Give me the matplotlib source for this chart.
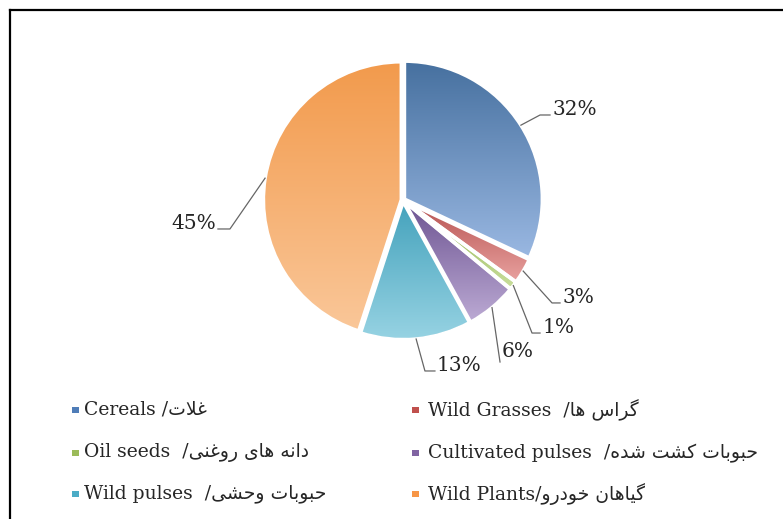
import numpy as np
import matplotlib
matplotlib.use("Agg")
import matplotlib.pyplot as plt
from matplotlib.lines import Line2D
from matplotlib.patches import Rectangle, Wedge
from matplotlib.colors import to_rgb

# ---------------- data ----------------
categories_en = ["Cereals", "Wild Grasses", "Oil seeds", "Cultivated pulses",
                 "Wild pulses", "Wild Plants"]
categories_fa = ["غلات", "گراس ها", "دانه های روغنی", "حبوبات کشت شده",
                 "حبوبات وحشی", "گیاهان خودرو"]
separators = [" /", "  /", "  /", "  /", "  /", "/"]
values = [32, 3, 1, 6, 13, 45]
pct_labels = ["32%", "3%", "1%", "6%", "13%", "45%"]

# gradient colours (dark top -> light bottom)
dark_cols = ["#46709F", "#B5504E", "#8DAF4E", "#6C5391", "#44A2BC", "#F29A4C"]
light_cols = ["#9AB8E2", "#E9A2A0", "#C9DE9C", "#BCAAD4", "#97D3E3", "#FAC799"]
legend_cols = ["#4F7DB8", "#C0504D", "#9BBB59", "#8064A2", "#4BACC6", "#F79646"]

# ---------------- minimal Persian shaping (visual order) ----------------
AR_FORMS = {
    'ا': ('\uFE8D', '\uFE8E', None, None),
    'ب': ('\uFE8F', '\uFE90', '\uFE91', '\uFE92'),
    'ت': ('\uFE95', '\uFE96', '\uFE97', '\uFE98'),
    'ح': ('\uFEA1', '\uFEA2', '\uFEA3', '\uFEA4'),
    'خ': ('\uFEA5', '\uFEA6', '\uFEA7', '\uFEA8'),
    'د': ('\uFEA9', '\uFEAA', None, None),
    'ر': ('\uFEAD', '\uFEAE', None, None),
    'س': ('\uFEB1', '\uFEB2', '\uFEB3', '\uFEB4'),
    'ش': ('\uFEB5', '\uFEB6', '\uFEB7', '\uFEB8'),
    'غ': ('\uFECD', '\uFECE', '\uFECF', '\uFED0'),
    'ک': ('\uFB8E', '\uFB8F', '\uFB90', '\uFB91'),
    'ك': ('\uFB8E', '\uFB8F', '\uFB90', '\uFB91'),
    'گ': ('\uFB92', '\uFB93', '\uFB94', '\uFB95'),
    'ل': ('\uFEDD', '\uFEDE', '\uFEDF', '\uFEE0'),
    'ن': ('\uFEE5', '\uFEE6', '\uFEE7', '\uFEE8'),
    'ه': ('\uFEE9', '\uFEEA', '\uFEEB', '\uFEEC'),
    'و': ('\uFEED', '\uFEEE', None, None),
    'ی': ('\uFBFC', '\uFBFD', '\uFBFE', '\uFBFF'),
    'ي': ('\uFBFC', '\uFBFD', '\uFBFE', '\uFBFF'),
    'ى': ('\uFBFC', '\uFBFD', '\uFBFE', '\uFBFF'),
}


def joins_left(c):
    return c in AR_FORMS and AR_FORMS[c][2] is not None


def shape_fa(s):
    chars = list(s)
    n = len(chars)
    out = []
    i = 0
    while i < n:
        c = chars[i]
        if c not in AR_FORMS:
            out.append(c)
            i += 1
            continue
        prev_j = i > 0 and joins_left(chars[i - 1])
        if c == 'ل' and i + 1 < n and chars[i + 1] == 'ا':
            out.append('\uFEFC' if prev_j else '\uFEFB')
            i += 2
            continue
        nxt = chars[i + 1] if i + 1 < n else None
        next_j = (nxt in AR_FORMS) and AR_FORMS[c][2] is not None
        iso, fin, ini, med = AR_FORMS[c]
        if prev_j and next_j:
            out.append(med)
        elif prev_j:
            out.append(fin)
        elif next_j:
            out.append(ini)
        else:
            out.append(iso)
        i += 1
    return ''.join(reversed(out))


# ---------------- figure ----------------
W, H = 783, 519
fig = plt.figure(figsize=(W / 100, H / 100), dpi=100)
fig.patch.set_facecolor("white")

# pie axes: centre (403, 200) px, radius 138 px, limits +-1.4
scale = 138.0
L = 1.4
cx, cy = 403.0, 200.0
size = 2 * L * scale
ax = fig.add_axes([(cx - size / 2) / W, (H - cy - size / 2) / H, size / W, size / H])

serif = ["DejaVu Serif", "DejaVu Sans"]
txt_col = "#262626"

wedges, _ = ax.pie(values, startangle=90, counterclock=False,
                   explode=[0.012] * len(values), radius=1.0,
                   wedgeprops=dict(facecolor="none", edgecolor="white",
                                   linewidth=2.6, zorder=3))

grad = np.linspace(0, 1, 256)[:, None]
for w, dc, lc in zip(wedges, dark_cols, light_cols):
    ext = w.get_path().get_extents()
    d = np.array(to_rgb(dc))
    l = np.array(to_rgb(lc))
    img = d[None, None, :] * (1 - grad[..., None]) + l[None, None, :] * grad[..., None]
    img = np.repeat(img, 2, axis=1)
    # row 0 (dark) at the top of the wedge
    im = ax.imshow(img, extent=[ext.x0, ext.x1, ext.y0, ext.y1], origin="upper",
                   zorder=2, interpolation="bilinear")
    im.set_clip_path(w)
    # subtle darker rim
    ax.add_patch(Wedge(w.center, w.r, w.theta1, w.theta2,
                       width=0.012, facecolor=dc, alpha=0.35,
                       edgecolor="none", zorder=2.5))

ax.set_xlim(-L, L)
ax.set_ylim(-L, L)
ax.set_aspect("equal")
ax.axis("off")

# ---------------- data labels with leader lines ----------------
# elbow positions (data units) and horizontal leader lengths (px) — layout only
elbows = [(0.993, 0.616), (1.080, -0.746), (0.935, -0.964),
          (0.703, -1.174), (0.159, -1.239), (-1.254, -0.210)]
hlen_px = [10, 8, 8, 0, 10, 12]
baseline_shift_px = [0, 0, 0, 5, 0, 0]

for w, lab, (ex, ey), hl, bs in zip(wedges, pct_labels, elbows, hlen_px, baseline_shift_px):
    mid = np.deg2rad((w.theta1 + w.theta2) / 2)
    sx = w.center[0] + w.r * np.cos(mid)
    sy = w.center[1] + w.r * np.sin(mid)
    side = 1 if ex >= 0 else -1
    hx = ex + side * hl / scale
    ax.add_line(Line2D([sx, ex, hx], [sy, ey, ey], color="#666666", lw=0.9,
                       zorder=4, clip_on=False))
    ax.text(hx + side * 2 / scale, ey + bs / scale, lab,
            ha="left" if side > 0 else "right", va="baseline",
            fontsize=14.5, color=txt_col, family=serif, zorder=5)

# ---------------- legend (manual) ----------------
row_y = [410, 453, 494]
col_sq_x = [72, 412]
col_txt_x = [84, 428]
sq = 6.5
for i, (en, fa, sep, col) in enumerate(zip(categories_en, categories_fa,
                                           separators, legend_cols)):
    r, c = divmod(i, 2)
    y = row_y[r]
    fig.add_artist(Rectangle((col_sq_x[c] / W, (H - y - sq / 2) / H),
                             sq / W, sq / H, transform=fig.transFigure,
                             facecolor=col, edgecolor="none"))
    label = en + sep + shape_fa(fa)
    fig.text(col_txt_x[c] / W, (H - y) / H, label, ha="left", va="center",
             fontsize=13.5, color=txt_col, family=serif)

# ---------------- frame lines (top and left) ----------------
fig.add_artist(Line2D([9.5 / W, 1.0], [1 - 10 / H, 1 - 10 / H],
                      transform=fig.transFigure, color="black", lw=1.6))
fig.add_artist(Line2D([10 / W, 10 / W], [0.0, 1 - 9.5 / H],
                      transform=fig.transFigure, color="black", lw=1.6))

fig.savefig("out.png", dpi=100, facecolor="white")
